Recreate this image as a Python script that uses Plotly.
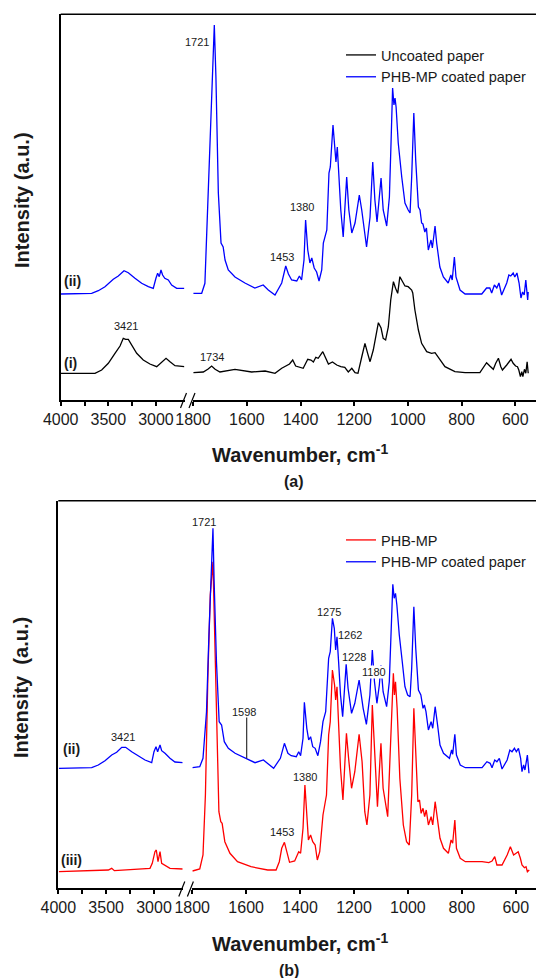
import plotly.graph_objects as go

# ---------------- DATA (wavenumber cm-1, intensity a.u.) ----------------
# Panel (a) - Uncoated paper (i), high wavenumber segment
a_unc_hi_wn = [3997, 3640, 3570, 3500, 3430, 3377, 3343, 3318, 3290, 3248, 3202, 3133, 3063, 2992, 2940, 2894, 2852, 2800, 2702]
a_unc_hi_int = [26.7, 26.7, 30, 36.7, 46.7, 54, 61.7, 60.7, 60.7, 54, 46.7, 40, 36, 33.3, 37.3, 41.7, 38.3, 34.3, 33.3]

# Panel (a) - Uncoated paper (i), fingerprint segment
a_unc_lo_wn = [1799, 1762, 1744, 1731, 1718, 1700, 1644, 1582, 1532, 1495, 1470, 1451, 1441, 1429, 1418, 1390,
               1373, 1361, 1352, 1343, 1334, 1317, 1306, 1296, 1281, 1265, 1250, 1235, 1222, 1209, 1197, 1186,
               1172, 1160, 1150, 1141, 1129, 1120, 1110, 1100, 1092, 1083, 1073, 1064, 1054, 1046, 1038, 1030,
               1021, 1011, 999, 986, 982, 974, 961, 949, 930, 912, 899, 881, 862, 825, 787, 732, 720, 707, 695,
               682, 673, 663, 654, 648, 632, 616, 608, 599, 592, 587, 581, 576, 572, 566, 561, 556, 552]
a_unc_lo_int = [27.3, 28, 31, 34, 30.7, 28, 30.7, 28, 29, 26.7, 31.7, 35, 36, 40, 34, 31.7,
                40.7, 40, 38, 42.7, 41.7, 48.3, 41.7, 36, 38, 35, 33.3, 32.7, 28, 31.7, 27.3, 26.7,
                43, 56.7, 46.7, 38.3, 50, 63, 77.3, 72, 61.7, 60, 73, 100, 118.3, 111.7, 106.7, 123.3,
                118.3, 114, 113.3, 110, 107, 90, 70, 56.7, 48.3, 46.7, 47.3, 40, 33.3, 28.3, 27.3, 27.3, 31.7, 37.3, 34,
                30.7, 36.7, 41.7, 33.3, 30, 35, 40.7, 36.7, 34, 33.3, 30, 23.3, 28.3, 23.3, 30.7, 26.7, 38.3, 26.7]

# Panel (a) - PHB-MP coated paper (ii), high wavenumber segment
a_coat_hi_wn = [3997, 3675, 3605, 3535, 3448, 3395, 3335, 3290, 3220, 3150, 3080, 3028, 3000, 2982, 2965, 2947, 2930, 2907, 2870, 2835, 2782, 2702]
a_coat_hi_int = [106, 106.7, 109.3, 113.3, 120.7, 124, 129.3, 127.3, 121.7, 116.7, 113.3, 111.7, 121.7, 126.7, 123.3, 130, 125, 121.7, 120, 115, 111.7, 111.7]

# Panel (a) - PHB-MP coated paper (ii), fingerprint segment
a_coat_lo_wn = [1799, 1768, 1756, 1741, 1731, 1721, 1715, 1706, 1696, 1688, 1681, 1669, 1644, 1607, 1570, 1539, 1520,
                1495, 1470, 1455, 1445, 1433, 1414, 1404, 1396, 1387, 1381, 1373, 1365, 1358, 1349, 1340, 1331,
                1321, 1315, 1302, 1294, 1289, 1279, 1271, 1268, 1263, 1257, 1250, 1241, 1228, 1220, 1209, 1197,
                1181, 1172, 1154, 1141, 1131, 1123, 1115, 1100, 1092, 1079, 1069, 1063, 1057, 1052, 1048, 1044,
                1036, 1023, 1011, 999, 992, 986, 978, 971, 961, 955, 949, 944, 937, 931, 924, 914, 909, 899, 893,
                881, 868, 850, 840, 835, 827, 821, 806, 787, 725, 707, 695, 688, 678, 669, 661, 651, 632, 624,
                617, 608, 602, 594, 586, 579, 573, 567, 561, 554, 552]
a_coat_lo_int = [106.7, 106.7, 116.7, 223, 307, 375, 323, 207, 157, 153, 140, 130, 123, 117, 112, 115, 110,
                 105, 117, 134, 126, 120, 119, 124, 120, 140, 180, 150, 137, 142, 132, 128, 119,
                 130, 157, 170, 227, 233, 275, 250, 238, 253, 223, 190, 163, 223, 190, 167, 177,
                 205, 190, 153, 183, 238, 200, 178, 222, 190, 174, 203, 256, 312, 295, 302, 293,
                 257, 223, 197, 190, 187, 223, 287, 240, 193, 190, 177, 176, 168, 172, 150, 160, 152, 174, 157,
                 133, 123, 117, 125, 120, 143, 123, 110, 106, 106, 112, 112, 107, 115, 112, 117, 105, 117, 125,
                 124, 127, 123, 127, 117, 102, 108, 105, 120, 100, 108]

# Panel (b) - PHB-MP (iii), high wavenumber segment
b_phb_hi_wn = [3993, 3477, 3442, 3414, 3042, 3018, 2990, 2976, 2958, 2937, 2920, 2892, 2868, 2833, 2700]
b_phb_hi_int = [16.3, 18, 19.7, 17.3, 19.7, 24.7, 36.3, 38, 26.3, 36.3, 24.7, 23, 21.3, 19.7, 19]

# Panel (b) - PHB-MP (iii), fingerprint segment
b_phb_lo_wn = [1799, 1772, 1760, 1751, 1742, 1733, 1723, 1719, 1710, 1701, 1694, 1689, 1679, 1660, 1632, 1582,
               1520, 1489, 1477, 1468, 1458, 1449, 1439, 1420, 1405, 1398, 1389, 1382, 1375, 1369, 1361, 1353,
               1344, 1336, 1327, 1315, 1302, 1294, 1288, 1280, 1272, 1268, 1263, 1255, 1250, 1241, 1228, 1220,
               1209, 1197, 1181, 1170, 1160, 1152, 1141, 1132, 1124, 1113, 1104, 1100, 1092, 1075, 1067, 1061,
               1054, 1050, 1046, 1040, 1030, 1017, 1005, 995, 986, 978, 971, 963, 957, 951, 944, 938, 932, 924,
               914, 908, 899, 890, 881, 868, 850, 840, 834, 826, 820, 806, 787, 725, 700, 688, 678, 670, 651,
               632, 620, 608, 591, 583, 577, 568, 562, 557, 550]
b_phb_lo_int = [17, 19, 33, 93, 209.7, 293, 326.3, 276.3, 159.7, 76.3, 66.3, 64.7, 46.3, 34.7, 26.3, 21.3,
                18, 18, 26.3, 39.7, 45.7, 36.3, 25.7, 27, 36.3, 34.7, 59.7, 103, 66.3, 48, 53, 46.3,
                43, 28, 36.3, 73, 93, 153, 166.3, 218, 203, 188, 201.3, 159.7, 119.7, 88, 154.7, 129.7,
                99.7, 116.3, 153.7, 126.3, 76.3, 63, 93, 183, 133, 81.3, 126.3, 144.7, 99.7, 71.3, 126.3, 176.3,
                214.7, 193, 206.3, 179.7, 109.7, 63, 46.3, 43, 93, 179.7, 126.3, 86.3, 88, 74.7, 79.7, 71.3, 78, 63,
                71.3, 63, 86.3, 64.7, 49.7, 39.7, 34.7, 48, 44.7, 68, 39.7, 29.7, 26.3, 26.3, 25.3, 27, 31.3, 23, 23,
                33, 41.3, 33, 36.3, 29.7, 23, 20.3, 21.3, 16.3, 18]

# Panel (b) - PHB-MP coated paper (ii), high wavenumber segment
b_coat_hi_wn = [3993, 3651, 3582, 3512, 3442, 3390, 3337, 3296, 3233, 3164, 3094, 3024, 3000, 2979, 2962, 2937, 2920, 2885, 2833, 2781, 2700]
b_coat_hi_int = [119.7, 120.3, 123, 127.3, 133, 135.7, 140.7, 140.7, 136.3, 132, 128, 125.3, 136.3, 141.3, 136.3, 143, 137.3, 134.7, 129.7, 126, 125.3]

# Panel (b) - PHB-MP coated paper (ii), fingerprint segment
b_coat_lo_wn = [1799, 1772, 1760, 1747, 1738, 1731, 1723, 1719, 1710, 1700, 1691, 1681, 1666, 1641, 1604, 1567,
                1536, 1517, 1498, 1473, 1458, 1445, 1433, 1414, 1405, 1398, 1389, 1384, 1375, 1368, 1361, 1353,
                1344, 1334, 1324, 1315, 1305, 1294, 1288, 1280, 1273, 1268, 1263, 1257, 1250, 1242, 1229, 1222,
                1209, 1197, 1181, 1166, 1154, 1141, 1132, 1124, 1115, 1106, 1100, 1092, 1079, 1069, 1063, 1056,
                1051, 1046, 1041, 1032, 1021, 1011, 1001, 992, 986, 978, 971, 961, 952, 944, 939, 933, 924, 914,
                908, 899, 890, 881, 868, 846, 838, 834, 826, 820, 806, 787, 725, 707, 695, 688, 678, 670, 661,
                651, 632, 622, 614, 605, 598, 590, 582, 577, 571, 566, 557, 551]
b_coat_lo_int = [120.3, 121.3, 129.7, 176, 253, 309.7, 359.7, 309.7, 226, 166.3, 163, 146.3, 139.7, 134.7, 129.7, 125.3,
                 128, 123.7, 119.7, 129.7, 144.7, 134.7, 132.3, 131.3, 136.3, 132.3, 149.7, 185.7, 159.7, 148, 151.3, 141.3,
                 139.7, 132.3, 146.3, 166.3, 176.3, 229.7, 236.3, 269.7, 259.7, 238, 251.3, 226, 193, 171.3, 223.7, 199.7,
                 174.7, 184.7, 208, 179.7, 163.7, 193, 238, 206.3, 184.7, 203, 223, 196.3, 181.3, 206.3, 259.7, 303.7,
                 289.7, 294.7, 283, 253, 226.3, 201.3, 193, 191.3, 219.7, 281.3, 239.7, 198, 193, 179.7, 183, 176.3, 158, 166.3,
                 159.7, 181.3, 163, 143, 134.7, 129.7, 138, 133.7, 153.7, 133, 123, 120.3, 120.3, 126.3, 124.7, 120.3, 128, 126.3, 129.7,
                 119, 128, 138, 136.3, 139.7, 136.3, 139.7, 129.7, 116.3, 123, 118, 133, 114.7]

# ---------------- FIGURE ----------------
W, H = 536, 978
FONT = "Liberation Sans, Arial, sans-serif"
INK = "#1a1a1a"
BLACK, BLUE, RED = "#000000", "#0000ff", "#ff0000"
LW = 1.3


def fx(p):
    return p / W


def fy(p):
    return 1 - p / H


fig = go.Figure()


def add(wn, inten, color, xa, ya, name, legend, show):
    fig.add_trace(go.Scatter(x=wn, y=inten, mode="lines", line=dict(color=color, width=LW),
                             xaxis=xa, yaxis=ya, name=name, legend=legend, showlegend=show,
                             hoverinfo="skip"))


# Panel (a)
add(a_unc_hi_wn, a_unc_hi_int, BLACK, "x", "y", "Uncoated paper", "legend", False)
add(a_unc_lo_wn, a_unc_lo_int, BLACK, "x2", "y", "Uncoated paper", "legend", True)
add(a_coat_hi_wn, a_coat_hi_int, BLUE, "x", "y", "PHB-MP coated paper", "legend", False)
add(a_coat_lo_wn, a_coat_lo_int, BLUE, "x2", "y", "PHB-MP coated paper", "legend", True)
# Panel (b)
add(b_phb_hi_wn, b_phb_hi_int, RED, "x3", "y2", "PHB-MP", "legend2", False)
add(b_phb_lo_wn, b_phb_lo_int, RED, "x4", "y2", "PHB-MP", "legend2", True)
add(b_coat_hi_wn, b_coat_hi_int, BLUE, "x3", "y2", "PHB-MP coated paper", "legend2", False)
add(b_coat_lo_wn, b_coat_lo_int, BLUE, "x4", "y2", "PHB-MP coated paper", "legend2", True)

tickfont = dict(family=FONT, size=16, color=INK)
axcommon = dict(showline=True, linecolor="black", linewidth=1.5, ticks="outside", ticklen=4,
                tickwidth=1.5, tickcolor="black", showgrid=False, zeroline=False, tickfont=tickfont,
                fixedrange=True, automargin=False)
hi_ticks = dict(tickmode="array", tickvals=[4000, 3500, 3000], ticktext=["4000", "3500", "3000"],
                minor=dict(tickmode="array", tickvals=[3750, 3250], ticks="outside", ticklen=4,
                           tickwidth=1.5, tickcolor="black"))
lo_ticks = dict(tickmode="array", tickvals=[1800, 1600, 1400, 1200, 1000, 800, 600],
                ticktext=["1800", "1600", "1400", "1200", "1000", "800", "600"])
ycommon = dict(showline=True, linecolor="black", linewidth=1.5, showticklabels=False, ticks="",
               showgrid=False, zeroline=False, fixedrange=True, automargin=False)

fig.update_layout(
    width=W, height=H, margin=dict(l=0, r=0, t=0, b=0, pad=0, autoexpand=False),
    paper_bgcolor="white", plot_bgcolor="white",
    xaxis=dict(domain=[fx(60.7), fx(184.5)], range=[4000, 2700], anchor="y", **hi_ticks, **axcommon),
    xaxis2=dict(domain=[fx(193.1), 1.0], range=[1800, 523], anchor="y", **lo_ticks, **axcommon),
    yaxis=dict(domain=[fy(400), fy(14.3)], range=[0, 385.7], anchor="x", **ycommon),
    xaxis3=dict(domain=[fx(58.3), fx(182.7)], range=[4000, 2700], anchor="y2", **hi_ticks, **axcommon),
    xaxis4=dict(domain=[fx(192.2), 1.0], range=[1800, 525], anchor="y2", **lo_ticks, **axcommon),
    yaxis2=dict(domain=[fy(888), fy(500.7)], range=[0, 387.3], anchor="x3", **ycommon),
    legend=dict(x=fx(341), y=fy(39), xanchor="left", yanchor="top", bgcolor="rgba(0,0,0,0)",
                font=dict(family=FONT, size=14.5, color=INK), tracegroupgap=0, borderwidth=0),
    legend2=dict(x=fx(341), y=fy(524), xanchor="left", yanchor="top", bgcolor="rgba(0,0,0,0)",
                 font=dict(family=FONT, size=14.5, color=INK), tracegroupgap=0, borderwidth=0),
    showlegend=True,
)

# frame top borders and axis-break slashes
shapes = []
for x0, y0 in [(60.7, 14.3), (58.3, 500.7)]:
    shapes.append(dict(type="line", xref="paper", yref="paper", x0=fx(x0), x1=1.0, y0=fy(y0), y1=fy(y0),
                       line=dict(color="black", width=1.5)))
for (x0, y0, x1, y1) in [(180.5, 408, 186.5, 393), (189, 408, 195, 393),
                         (178.8, 896.5, 184.8, 881.5), (187.4, 896.5, 193.4, 881.5)]:
    shapes.append(dict(type="line", xref="paper", yref="paper", x0=fx(x0), x1=fx(x1), y0=fy(y0), y1=fy(y1),
                       line=dict(color="black", width=1.2)))
# marker line for 1598 band
shapes.append(dict(type="line", xref="x4", yref="y2", x0=1598, x1=1598, y0=129.5, y1=170.5,
                   line=dict(color="#333333", width=1.2)))
fig.update_layout(shapes=shapes)

anns = []


def ann(text, x, y, size=11, bold=False, angle=0, bg=None):
    t = f"<b>{text}</b>" if bold else text
    d = dict(text=t, x=fx(x), y=fy(y), xref="paper", yref="paper", showarrow=False,
             xanchor="center", yanchor="middle", textangle=angle,
             font=dict(family=FONT, size=size, color=INK))
    if bg:
        d.update(bgcolor=bg, borderpad=0)
    anns.append(d)


# panel (a) labels
ann("1721", 196.7, 41.7)
ann("1380", 301.7, 206.7)
ann("1453", 281.7, 256.7)
ann("1734", 211.7, 356.7)
ann("3421", 126, 326)
ann("(ii)", 72.3, 281, 14, True)
ann("(i)", 70.5, 363, 14, True)
ann("Intensity (a.u.)", 22, 200, 20, True, -90)
ann("Wavenumber, cm<sup>-1</sup>", 300, 453, 20, True)
ann("(a)", 294, 481, 16, True)
# panel (b) labels
ann("1721", 204.3, 521.7)
ann("1598", 244.3, 711.5)
ann("1275", 329, 611.7)
ann("1262", 350, 635)
ann("1228", 354, 657.3)
ann("1180", 374.3, 671.7, bg="white")
ann("1380", 305, 776.7)
ann("1453", 281.7, 832.3)
ann("3421", 123.3, 736.7)
ann("(ii)", 71, 749.3, 14, True)
ann("(iii)", 71.7, 860, 14, True)
ann("Intensity \u00a0(a.u.)", 21, 688, 20, True, -90)
ann("Wavenumber, cm<sup>-1</sup>", 300, 942, 20, True)
ann("(b)", 289, 970, 16, True)
fig.update_layout(annotations=anns)

fig.write_html("out.html")
